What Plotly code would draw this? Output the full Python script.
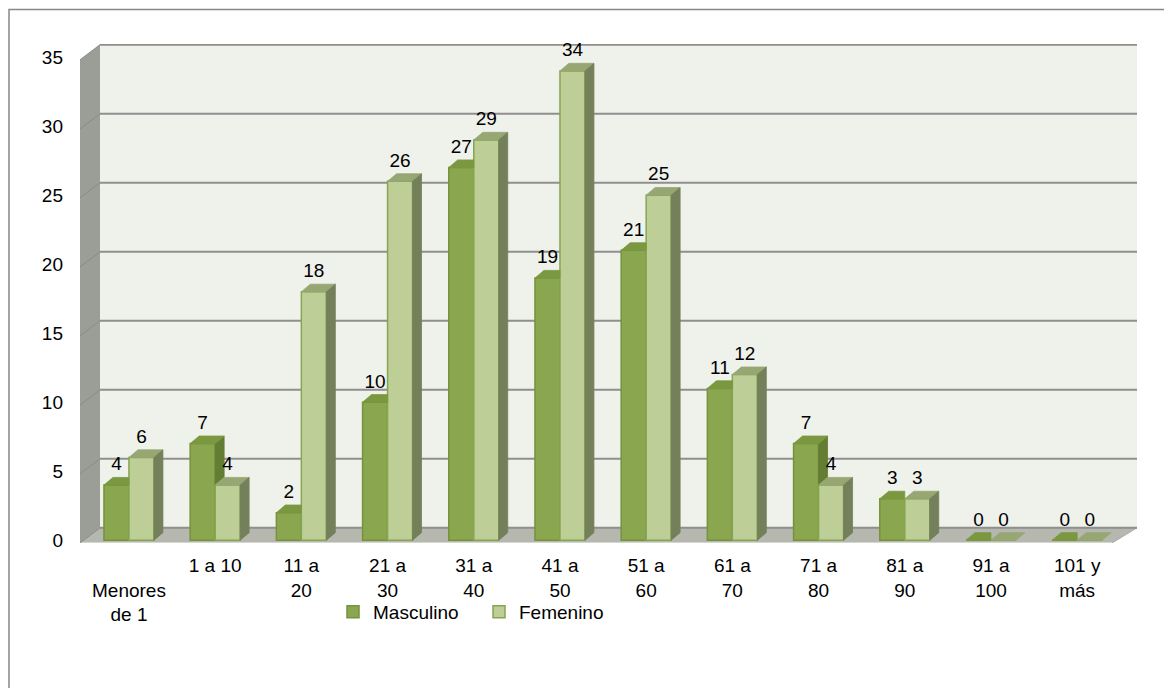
import plotly.graph_objects as go

# ---------------- data ----------------
categorias = ["Menores de 1", "1 a 10", "11 a 20", "21 a 30", "31 a 40", "41 a 50",
              "51 a 60", "61 a 70", "71 a 80", "81 a 90", "91 a 100", "101 y más"]
etiquetas_x = ["&nbsp;<br>Menores<br>de 1", "1 a 10", "11 a<br>20", "21 a<br>30", "31 a<br>40",
               "41 a<br>50", "51 a<br>60", "61 a<br>70", "71 a<br>80", "81 a<br>90",
               "91 a<br>100", "101 y<br>más"]
masculino = [4, 7, 2, 10, 27, 19, 21, 11, 7, 3, 0, 0]
femenino = [6, 4, 18, 26, 29, 34, 25, 12, 4, 3, 0, 0]
ticks_y = [0, 5, 10, 15, 20, 25, 30, 35]

# ---------------- style / geometry ----------------
W, H = 1164, 680          # page body has an 8px margin
ML, MR, MT, MB = 72, 35, 36, 145
XR = [-0.568, 11.694]
YR = [-0.2, 35.95]
HALF = 0.145          # half bar width (category units)
DX, DY = 0.104, 0.55  # pseudo-3D depth offsets
pw, ph = W - ML - MR, H - MT - MB
WALL_DX = 20 / pw     # left wall depth in paper units
BACK_DY = 0.9         # back wall vertical offset (data units)
FRONT_DY = -0.2

C_M, C_M_LINE, C_M_TOP, C_M_SIDE = "#8AA64E", "#76923C", "#7A9840", "#637E33"
C_F, C_F_LINE, C_F_TOP, C_F_SIDE = "#BDCF97", "#86A551", "#97A774", "#74805A"
FONT = "Liberation Sans, Arial, sans-serif"
FS = 19

xs = list(range(len(categorias)))

fig = go.Figure()
fig.add_trace(go.Bar(x=xs, y=masculino, name="Masculino",
                     marker=dict(color=C_M, line=dict(color=C_M_LINE, width=1.5))))
fig.add_trace(go.Bar(x=xs, y=femenino, name="Femenino",
                     marker=dict(color=C_F, line=dict(color=C_F_LINE, width=1.5))))


def faces(vals, other, off, is_left):
    tx, ty, sx, sy = [], [], [], []
    for i, v in enumerate(vals):
        xl = i + off - HALF
        xr = i + off + HALF
        o = other[i]
        # top face
        if is_left and o >= v:
            tx += [xl, xl + DX, xr, xr, xl, None]
        else:
            tx += [xl, xl + DX, xr + DX, xr, xl, None]
        ty += [v, v + DY, v + DY, v, v, None]
        # side face
        if is_left:
            if v > o:
                sx += [xr, xr, xr + DX, xr + DX, xr, None]
                sy += [o, v, v + DY, o + DY, o, None]
        elif v > 0:
            sx += [xr, xr, xr + DX, xr + DX, xr, None]
            sy += [0, v, v + DY, DY, 0, None]
    return tx, ty, sx, sy


mtx, mty, msx, msy = faces(masculino, femenino, -HALF, True)
ftx, fty, fsx, fsy = faces(femenino, masculino, HALF, False)
for fx, fy, col in [(msx, msy, C_M_SIDE), (mtx, mty, C_M_TOP), (ftx, fty, C_F_TOP), (fsx, fsy, C_F_SIDE)]:
    if fx:
        fig.add_trace(go.Scatter(x=fx, y=fy, mode="lines", fill="toself", fillcolor=col,
                                 line=dict(color=col, width=0.8), showlegend=False,
                                 hoverinfo="skip"))

# data labels
for vals, off in [(masculino, -HALF), (femenino, HALF)]:
    fig.add_trace(go.Scatter(x=[i + off for i in xs], y=[v + 0.72 for v in vals],
                             mode="text", text=[str(v) for v in vals],
                             textposition="top center",
                             textfont=dict(family=FONT, size=FS, color="#000000"),
                             showlegend=False, hoverinfo="skip", cliponaxis=False))

shapes = []
top = ticks_y[-1]
# back wall
shapes.append(dict(type="path", xref="paper", yref="y", layer="below",
                   path=f"M {WALL_DX},{BACK_DY} L 1,{BACK_DY} L 1,{top + BACK_DY} L {WALL_DX},{top + BACK_DY} Z",
                   fillcolor="#EFF1EB", line=dict(width=0)))
# left wall
shapes.append(dict(type="path", xref="paper", yref="y", layer="below",
                   path=f"M 0,{FRONT_DY} L {WALL_DX},{BACK_DY} L {WALL_DX},{top + BACK_DY} L 0,{top + FRONT_DY} Z",
                   fillcolor="#9B9D97", line=dict(width=0)))
# floor
fx1 = 1 - 25 / pw
shapes.append(dict(type="path", xref="paper", yref="y", layer="below",
                   path=f"M 0,{FRONT_DY} L {WALL_DX},{BACK_DY} L 1,{BACK_DY} L {fx1},{FRONT_DY} Z",
                   fillcolor="#B6B8B0", line=dict(color="#A9ABA4", width=1)))
shapes.append(dict(type="line", xref="paper", yref="y", layer="below",
                   x0=0, x1=fx1, y0=FRONT_DY, y1=FRONT_DY, line=dict(color="#D4D6D0", width=2)))
# grid lines on back wall and left wall
for t in ticks_y:
    shapes.append(dict(type="line", xref="paper", yref="y", layer="below",
                       x0=WALL_DX, x1=1, y0=t + BACK_DY, y1=t + BACK_DY,
                       line=dict(color="#8F8F8F", width=2)))
    shapes.append(dict(type="line", xref="paper", yref="y", layer="below",
                       x0=0, x1=WALL_DX, y0=t + FRONT_DY, y1=t + BACK_DY,
                       line=dict(color="#8A8C86", width=1)))
# outer chart border
shapes.append(dict(type="rect", xref="paper", yref="paper",
                   x0=(1 - ML) / pw, x1=1.5, y0=-1.0, y1=(H - MB - 1.5) / ph,
                   line=dict(color="#878787", width=1.5), fillcolor="rgba(0,0,0,0)"))

fig.update_layout(
    width=W, height=H, autosize=False,
    margin=dict(l=ML, r=MR, t=MT, b=MB),
    paper_bgcolor="white", plot_bgcolor="rgba(0,0,0,0)",
    barmode="group", bargap=0.42, bargroupgap=0,
    font=dict(family=FONT, size=FS, color="#000000"),
    shapes=shapes,
    showlegend=True,
    legend=dict(orientation="h", x=(325 - ML) / pw, xanchor="left",
                y=(H - MB - 604) / ph, yanchor="middle",
                font=dict(family=FONT, size=FS, color="#000000"),
                bgcolor="rgba(0,0,0,0)", itemwidth=30,
                entrywidth=101, entrywidthmode="pixels"),
    xaxis=dict(range=XR, tickmode="array", tickvals=xs, ticktext=etiquetas_x,
               showgrid=False, zeroline=False, showline=False, ticks="",
               ticklabelstandoff=9, tickfont=dict(family=FONT, size=FS, color="#000000")),
    yaxis=dict(range=YR, tickmode="array", tickvals=ticks_y, ticktext=[str(t) for t in ticks_y],
               showgrid=False, zeroline=False, showline=False, ticks="",
               ticklabelstandoff=16, tickfont=dict(family=FONT, size=FS, color="#000000")),
)

fig.write_html("out.html")
